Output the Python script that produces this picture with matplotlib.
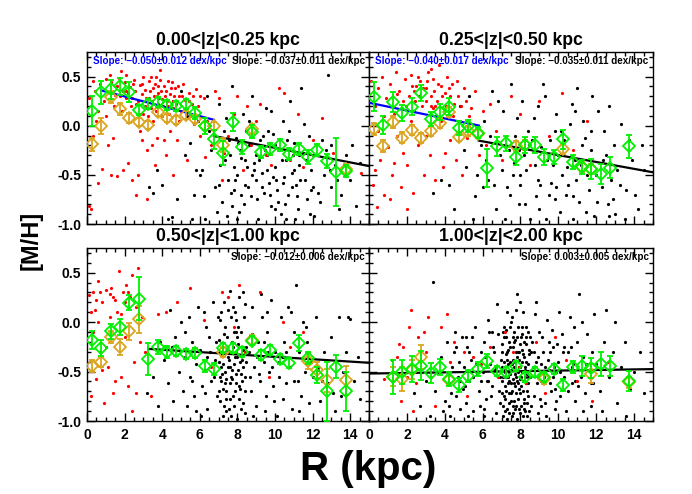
import numpy as np
import matplotlib
matplotlib.use("Agg")
import matplotlib.pyplot as plt
from matplotlib.ticker import MultipleLocator, FixedLocator

plt.rcParams['font.family'] = ['Liberation Sans', 'DejaVu Sans']
plt.rcParams['font.weight'] = 'bold'

nan = np.nan
R_BINS = [0.25, 0.75, 1.25, 1.75, 2.25, 2.75, 3.25, 3.75, 4.25, 4.75, 5.25, 5.75, 6.25, 6.75,
          7.25, 7.75, 8.25, 8.75, 9.25, 9.75, 10.25, 10.75, 11.25, 11.75, 12.25, 12.75, 13.25, 13.75]

TITLES = ["0.00<|z|<0.25 kpc", "0.25<|z|<0.50 kpc", "0.50<|z|<1.00 kpc", "1.00<|z|<2.00 kpc"]
SLOPE_INNER = ["Slope: \u22120.050\u00b10.012 dex/kpc", "Slope: \u22120.040\u00b10.017 dex/kpc", None, None]
SLOPE_OUTER = ["Slope: \u22120.037\u00b10.011 dex/kpc", "Slope: \u22120.035\u00b10.011 dex/kpc",
               "Slope: \u22120.012\u00b10.006 dex/kpc", "Slope: 0.003\u00b10.005 dex/kpc"]

# ---------------- binned means (green = all, orange = subset) ----------------
G1 = [0.15, 0.34, 0.37, 0.40, 0.34, 0.16, 0.22, 0.245, 0.21, 0.20, 0.22, 0.13, 0.00, -0.14,
      -0.28, 0.035, -0.22, -0.06, -0.27, -0.24, -0.20, -0.29, -0.24, -0.315, -0.25, -0.36, -0.47, -0.46]
G1E = [0.15, 0.12, 0.10, 0.09, 0.10, 0.05, 0.05, 0.05, 0.05, 0.05, 0.05, 0.06, 0.08, 0.10,
       0.12, 0.09, 0.07, 0.07, 0.06, 0.06, 0.06, 0.06, 0.06, 0.07, 0.06, 0.07, 0.35, 0.06]
O1 = [-0.19, 0.0, 0.295, 0.167, 0.075, 0.04, 0.007, 0.137, 0.075, 0.058, 0.109, 0.065, 0.0, 0.0,
      -0.20, nan, nan, -0.03, nan, nan, nan, nan, nan, nan, nan, nan, nan, -0.44]
O1E = [0.07, 0.08, 0.06, 0.06, 0.05, 0.04, 0.04, 0.04, 0.04, 0.04, 0.04, 0.04, 0.04, 0.04,
       0.07, nan, nan, 0.05, nan, nan, nan, nan, nan, nan, nan, nan, nan, 0.05]

G2 = [0.295, 0.007, 0.244, 0.126, 0.194, 0.336, 0.065, 0.143, 0.194, -0.026, 0.0, -0.07, -0.43, -0.21,
      -0.18, -0.315, -0.196, -0.196, -0.315, -0.32, -0.14, -0.366, -0.417, -0.44, -0.49, -0.427, nan, -0.21]
G2E = [0.15, 0.09, 0.1, 0.08, 0.09, 0.08, 0.07, 0.08, 0.09, 0.07, 0.06, 0.06, 0.19, 0.1,
       0.08, 0.08, 0.08, 0.08, 0.08, 0.07, 0.1, 0.07, 0.07, 0.1, 0.1, 0.11, nan, 0.12]
O2 = [-0.03, -0.21, 0.035, -0.12, -0.04, -0.125, -0.05, 0.03, 0.14, -0.11, -0.05, -0.08, nan, nan,
      nan, -0.21, -0.2, nan, nan, nan, -0.24, nan, -0.42, -0.44, nan, nan, nan, nan]
O2E = [0.06, 0.06, 0.06, 0.06, 0.05, 0.05, 0.05, 0.05, 0.05, 0.05, 0.05, 0.05, nan, nan,
       nan, 0.05, 0.05, nan, nan, nan, 0.05, nan, 0.05, 0.05, nan, nan, nan, nan]

G3 = [-0.179, -0.264, -0.094, -0.05, 0.198, 0.238, -0.37, -0.254, -0.305, -0.295, -0.32, -0.311, -0.44, -0.474,
      -0.26, -0.264, -0.305, -0.186, -0.33, -0.28, -0.37, -0.413, -0.213, -0.359, -0.535, -0.70, -0.45, -0.70]
G3E = [0.09, 0.08, 0.08, 0.08, 0.08, 0.22, 0.16, 0.07, 0.06, 0.05, 0.05, 0.05, 0.06, 0.06,
       0.05, 0.05, 0.05, 0.05, 0.05, 0.05, 0.05, 0.05, 0.08, 0.06, 0.08, 0.3, 0.12, 0.2]
O3 = [-0.447, -0.407, -0.152, -0.254, -0.094, 0.028, nan, nan, nan, nan, nan, nan, nan, nan,
      -0.30, nan, nan, -0.18, nan, nan, nan, nan, nan, -0.39, -0.48, -0.59, nan, -0.59]
O3E = [0.06, 0.05, 0.06, 0.08, 0.09, 0.14, nan, nan, nan, nan, nan, nan, nan, nan,
       0.05, nan, nan, 0.05, nan, nan, nan, nan, nan, 0.08, 0.08, 0.12, nan, 0.15]

G4 = [nan, nan, -0.552, -0.508, -0.474, -0.44, -0.518, -0.457, -0.576, -0.637, -0.549, -0.474, -0.389, -0.491,
      -0.508, -0.44, -0.552, -0.508, -0.552, -0.474, -0.634, -0.45, -0.447, -0.467, -0.423, -0.447, nan, -0.593]
G4E = [nan, nan, 0.17, 0.12, 0.13, 0.15, 0.1, 0.08, 0.07, 0.07, 0.06, 0.07, 0.07, 0.05,
       0.05, 0.05, 0.05, 0.05, 0.05, 0.05, 0.06, 0.06, 0.1, 0.1, 0.12, 0.1, nan, 0.1]
O4 = [nan, nan, -0.55, -0.576, -0.48, -0.35, nan, nan, -0.59, nan, nan, nan, nan, nan,
      nan, nan, nan, nan, -0.575, nan, nan, nan, nan, -0.52, nan, nan, nan, -0.61]
O4E = [nan, nan, 0.1, 0.12, 0.1, 0.12, nan, nan, 0.05, nan, nan, nan, nan, nan,
       nan, nan, nan, nan, 0.05, nan, nan, nan, nan, 0.1, nan, nan, nan, 0.06]

# ---------------- linear fits: (R start, R end, value at start, slope) ----------------
FIT_INNER = [(0.75, 6.75, 0.36, -0.050), (0.0, 5.8, 0.234, -0.040), None, None]
FIT_OUTER = [(6.75, 15.0, -0.105, -0.037), (5.8, 15.0, -0.152, -0.035),
             (3.25, 15.0, -0.27, -0.012), (0.0, 15.0, -0.52, 0.003)]

# ---------------- individual stars ----------------
P1_RED = [(0.1,0.28),(0.1,-0.82),(0.2,-0.85),(0.3,0.46),(0.4,0.35),(0.5,0.05),(0.6,-0.58),(0.7,0.42),(0.8,-0.44),
 (0.9,0.25),(1.0,0.48),(1.1,-0.2),(1.2,0.52),(1.3,0.44),(1.4,-0.13),(1.5,0.31),(1.6,-0.51),(1.7,0.49),(1.8,0.56),
 (1.9,0.35),(2.0,0.44),(2.1,0.52),(2.2,-0.38),(2.3,0.39),(2.4,0.28),(2.5,0.47),(2.6,0.22),(2.7,-0.5),(2.8,0.41),
 (2.9,0.32),(3.0,0.5),(3.0,0.12),(3.1,0.36),(3.2,-0.25),(3.3,0.45),(3.3,0.28),(3.4,0.18),(3.5,0.38),(3.5,0.05),
 (3.6,0.42),(3.7,0.3),(3.7,-0.12),(3.8,0.33),(3.8,0.22),(3.9,0.47),(4.0,0.27),(4.0,0.1),(4.1,0.4),(4.2,-0.3),
 (4.2,0.35),(4.3,0.2),(4.4,0.32),(4.4,-0.05),(4.5,0.44),(4.6,0.25),(4.7,0.38),(4.8,-0.15),(4.9,0.3),(5.0,0.15),
 (5.1,0.42),(5.2,0.26),(5.3,-0.35),(5.4,0.33),(5.5,0.1),(5.6,0.22),(5.8,0.37),(6.0,-0.1),(6.2,0.28),(6.4,0.05),
 (6.6,-0.2),(6.8,0.35),(7.2,-0.55),(7.8,0.12),(8.3,-0.45),(9.0,0.05),(9.5,-0.3),(10.2,0.38),(10.8,-0.35),
 (11.2,0.12),(12.0,-0.15),(12.5,0.08),(13.1,-0.28),(14.6,-0.48),(0.3,-0.1),(0.6,0.15),(1.3,-0.5),(1.9,-0.45),
 (2.4,-0.55),(2.6,-0.7),(3.2,-0.75),(2.9,-0.15),(3.6,-0.4),(4.6,-0.5),(5.9,0.2),(6.3,-0.32),(1.0,0.1),(2.1,0.28),
 (3.4,0.5),(3.9,0.57),(4.9,0.05),(5.7,0.02),(6.0,0.3),(7.0,0.28),(7.5,-0.1),(8.0,0.3),(8.5,0.2),(9.2,0.22),
 (9.8,-0.4),(10.5,0.33),(11.5,-0.42),(7.3,-0.28),(8.7,-0.2),(2.2,0.33),(2.7,0.25),(3.1,0.2),(4.3,0.45),(1.6,0.4),
 (2.35,0.2),(2.55,0.35),(2.75,0.12),(2.95,0.42),(3.15,0.28),(3.35,0.35),(3.45,0.25),(3.55,0.3),(3.65,0.15),
 (3.75,0.4),(3.85,0.28),(3.95,0.35),(4.05,0.2),(4.15,0.3),(4.25,0.25),(4.35,0.12),(4.45,0.38),(4.55,0.18),
 (4.65,0.3),(4.75,0.22),(4.85,0.4),(5.05,0.3),(5.25,0.12),(5.45,0.25),(5.65,0.3),(1.45,0.2),(1.75,0.3),(1.85,0.15),
 (2.05,0.35),(2.45,0.42),(3.25,0.1),(3.65,0.5),(4.1,-0.15),(2.8,-0.05),(3.45,-0.2)]
P1_BLACK = [(3.3,-0.62),(3.5,-0.68),(3.7,-0.45),(4.0,-0.6),(4.3,-0.95),(4.5,-0.93),(4.8,-0.75),(5.0,0.35),(5.2,-0.3),
 (5.5,-0.18),(5.7,-0.7),(5.9,0.05),(6.1,-0.45),(6.3,-0.95),(6.4,0.3),(6.6,-0.25),(6.8,-0.62),(7.0,0.22),(7.1,-0.4),
 (7.2,-0.78),(7.3,-0.05),(7.4,0.08),(7.5,-0.55),(7.6,-0.3),(7.7,0.4),(7.8,-0.65),(7.9,-0.12),(8.0,-0.5),(8.1,-0.88),
 (8.2,-0.33),(8.3,0.12),(8.4,-0.6),(8.5,-0.42),(8.6,-0.2),(8.7,-0.72),(8.8,0.3),(8.9,-0.38),(9.0,-0.55),(9.1,-0.95),
 (9.2,-0.15),(9.3,-0.48),(9.4,-0.68),(9.5,0.18),(9.6,-0.3),(9.7,-0.58),(9.8,-0.82),(9.9,-0.08),(10.0,-0.42),
 (10.1,-0.65),(10.2,-0.25),(10.3,-0.9),(10.4,0.05),(10.5,-0.52),(10.6,-0.35),(10.7,-0.7),(10.8,0.25),(10.9,-0.48),
 (11.0,-0.18),(11.1,-0.6),(11.2,-0.85),(11.3,-0.4),(11.4,0.38),(11.5,-0.28),(11.6,-0.55),(11.7,-0.75),(11.8,-0.1),
 (11.9,-0.45),(12.0,-0.62),(12.2,-0.3),(12.4,-0.78),(12.6,-0.5),(12.8,0.52),(13.0,-0.62),(13.2,-0.4),(13.5,-0.7),
 (13.8,-0.3),(14.0,-0.55),(14.3,-0.82),(14.5,-0.38),(7.45,-0.92),(8.05,-0.18),(8.55,-0.62),(9.15,-0.35),
 (9.65,-0.05),(10.15,-0.78),(10.65,-0.15),(11.05,-0.95),(11.55,0.02),(12.1,-0.92),(7.65,-0.68),(8.35,-0.8),
 (9.45,-0.25),(10.45,-0.58),(11.25,-0.3),(6.9,-0.88),(5.6,-0.95),(5.3,0.1),(4.6,0.25),(6.0,-0.5),(8.9,-0.45),
 (9.3,-0.62),(10.0,-0.2),(10.9,-0.62),(8.2,-0.7),(7.8,-0.42),(9.9,-0.52),(11.9,-0.65),(12.5,-0.15),(13.3,-0.55),
 (7.35,-0.35),(7.55,-0.15),(7.85,-0.55),(8.15,-0.25),(8.45,-0.05),(8.75,-0.5),(9.05,-0.75),(9.35,-0.1),(9.55,-0.45),
 (9.75,-0.7),(10.05,-0.55),(10.35,-0.35),(10.55,-0.8),(10.75,-0.05),(10.95,-0.3),(11.15,-0.72),(11.35,-0.55),
 (11.65,-0.35),(11.85,-0.9),(12.3,-0.68),(12.7,-0.25),(12.9,-0.45),(13.4,-0.85),(13.7,-0.5),(14.1,-0.2),(6.2,-0.72),
 (6.5,-0.05),(5.8,-0.45),(7.0,-0.6),(8.0,-0.95),(9.0,-0.3),(10.0,-0.85),(11.0,-0.45),(12.0,-0.3),(13.0,-0.2),
 (8.6,0.05),(9.8,0.15),(10.6,-0.95),(7.7,-0.82),(8.4,-0.35)]

P2_RED = [(0.1,0.45),(0.2,-0.6),(0.3,0.2),(0.4,-0.83),(0.5,0.38),(0.6,-0.35),(0.7,0.5),(0.8,-0.7),(0.9,0.28),
 (1.0,-0.22),(1.1,0.42),(1.2,-0.5),(1.3,0.12),(1.4,0.55),(1.5,-0.1),(1.6,0.35),(1.7,-0.62),(1.8,0.25),(1.9,0.48),
 (2.0,-0.4),(2.1,0.3),(2.2,0.52),(2.3,-0.68),(2.4,0.15),(2.5,0.4),(2.6,-0.2),(2.7,0.45),(2.8,0.2),(2.9,-0.5),
 (3.0,0.38),(3.1,0.55),(3.2,-0.3),(3.3,0.3),(3.4,0.48),(3.5,-0.55),(3.6,0.25),(3.7,0.62),(3.8,0.4),(3.9,-0.42),
 (4.0,0.33),(4.1,0.5),(4.2,0.1),(4.3,-0.15),(4.4,0.42),(4.5,0.22),(4.6,-0.35),(4.7,0.3),(4.8,0.05),(5.0,0.38),
 (5.2,-0.12),(5.4,0.18),(5.6,0.35),(5.8,-0.3),(6.0,0.15),(6.2,-0.2),(6.4,0.22),(6.7,-0.05),(7.0,-0.35),(7.5,0.3),
 (8.0,0.12),(8.5,-0.4),(9.0,0.25),(9.5,-0.1),(10.2,0.33),(10.8,-0.25),(11.5,0.05),(0.8,0.1),(1.5,0.32),(2.2,0.05),
 (3.0,-0.1),(3.8,0.05),(2.6,0.5),(3.4,0.18),(4.0,-0.28),(1.3,-0.38),(0.3,-0.45),(2.0,-0.85),(1.1,-0.75),(4.9,-0.5),
 (3.3,0.58),(3.5,0.2),(2.4,0.35),(3.0,0.25),(4.3,0.3),(1.8,-0.28),(0.5,-0.05),
 (2.65,0.3),(2.85,0.38),(3.05,0.45),(3.25,0.2),(3.45,0.35),(3.65,0.42),(3.85,0.3),(4.05,0.2),(4.25,0.38),
 (4.45,0.1),(4.65,0.45),(2.45,0.25),(2.25,0.4),(1.95,0.2),(5.1,0.25),(5.3,0.1),(4.85,0.2),(3.55,0.1)]
P2_BLACK = [(3.4,-0.68),(3.8,-0.55),(4.2,-0.6),(4.5,-0.85),(4.8,0.2),(5.1,-0.42),(5.3,0.3),(5.6,-0.72),(5.9,-0.2),
 (6.1,0.05),(6.3,-0.55),(6.5,0.35),(6.7,-0.85),(6.9,-0.3),(7.1,0.15),(7.3,-0.62),(7.5,0.42),(7.7,-0.1),(7.9,-0.8),
 (8.1,0.25),(8.3,-0.45),(8.5,-0.95),(8.7,0.08),(8.9,-0.55),(9.1,-0.22),(9.3,0.3),(9.5,-0.7),(9.7,-0.4),(9.9,0.12),
 (10.1,-0.88),(10.3,-0.15),(10.5,-0.6),(10.7,0.22),(10.9,-0.35),(11.1,-0.78),(11.3,0.05),(11.5,-0.5),(11.7,-0.25),
 (11.9,-0.92),(12.1,0.15),(12.3,-0.62),(12.5,-0.3),(12.7,0.2),(12.9,-0.75),(13.1,-0.45),(13.3,0.02),(13.6,-0.65),
 (13.9,-0.35),(14.2,-0.85),(14.5,-0.45),(7.2,-0.95),(7.8,0.08),(8.2,-0.3),(8.8,-0.72),(9.2,0.42),(9.8,-0.05),
 (10.2,-0.5),(10.8,-0.95),(11.2,-0.4),(11.8,0.3),(12.4,-0.05),(13.0,-0.9),(6.4,-0.1),(7.0,-0.45),(8.0,-0.6),
 (9.0,-0.85),(10.0,-0.3),(11.0,0.38),(12.0,-0.5),(13.5,-0.95),(5.5,-0.95),(6.8,0.25),(7.4,-0.25),(8.6,-0.15),
 (9.6,-0.58),(10.6,0.02),(11.6,-0.65),(12.8,-0.55),(5.0,-0.25),(6.0,-0.62),(7.6,-0.5),(8.4,-0.05),(9.4,-0.35),
 (10.4,-0.7),(11.4,-0.12),(12.6,-0.8),(7.9,-0.25),(9.9,-0.62),(7.45,-0.7),(7.65,-0.38),(7.95,-0.5),(8.25,-0.8),
 (8.45,-0.2),(8.75,-0.4),(9.05,-0.6),(9.35,-0.95),(9.55,-0.15),(9.85,-0.75),(10.15,-0.05),(10.45,-0.42),
 (10.75,-0.72),(10.95,-0.55),(11.25,-0.2),(11.45,-0.88),(11.75,-0.05),(12.05,-0.78),(12.35,-0.35),(12.65,-0.92),
 (12.95,-0.2),(13.25,-0.6),(13.75,-0.15),(14.05,-0.7),(14.4,-0.2),(6.6,-0.6),(6.2,-0.35),(5.7,-0.5),(8.9,0.2),
 (10.9,0.15)]

P3_RED = [(0.1,0.27),(0.2,-0.75),(0.3,0.3),(0.4,0.12),(0.5,-0.58),(0.6,0.42),(0.7,-0.3),(0.8,0.2),(0.9,-0.82),
 (1.0,0.33),(1.1,-0.45),(1.2,0.05),(1.3,0.35),(1.4,-0.72),(1.5,0.22),(1.6,0.1),(1.7,0.52),(1.8,-0.55),(1.9,0.3),
 (2.0,-0.15),(2.1,0.38),(2.2,-0.65),(2.3,0.25),(2.4,0.48),(2.5,-0.4),(2.6,0.15),(2.7,0.55),(2.8,-0.2),(2.9,0.05),
 (0.3,-0.1),(0.6,0.0),(1.0,-0.25),(1.5,-0.6),(2.0,0.2),(2.4,-0.9),(1.2,0.28),(0.8,-0.48),(1.8,0.08),(2.6,-0.72),
 (0.5,0.22),(3.1,-0.3),(3.4,-0.75),(3.8,0.08),(4.2,0.1),(4.8,0.2),(5.5,0.35),(6.2,0.02),(6.6,-0.45),(7.2,0.3),
 (7.5,0.25),(7.8,-0.05),(8.1,0.38),(8.4,-0.3),(9.2,0.3),(9.7,-0.55),(10.4,0.0),(10.8,-0.25),(11.5,-0.1),
 (12.3,-0.48),(0.2,0.1),(1.4,0.25),(2.2,0.3),(0.7,0.3)]
P3_BLACK = [(3.2,-0.72),(3.5,-0.55),(3.8,-0.85),(3.9,-0.2),(4.1,-0.38),(4.3,-0.62),(4.4,0.12),(4.6,-0.8),(4.7,-0.15),
 (4.9,-0.5),(4.5,-0.25),(5.0,0.0),(5.1,-0.7),(5.2,-0.35),(5.3,-0.85),(5.4,0.05),(5.5,-0.55),(5.6,-0.2),(5.7,-0.75),
 (5.8,-0.42),(5.9,0.15),(5.2,-0.1),(5.6,-0.6),(6.0,-0.28),(6.1,-0.65),(6.2,0.1),(6.3,-0.48),(6.4,-0.88),(6.5,-0.15),
 (6.6,-0.6),(6.7,0.2),(6.8,-0.38),(6.9,-0.75),(6.05,-0.95),(6.35,-0.05),(6.55,-0.3),(6.75,-0.55),(6.95,0.05),
 (6.25,-0.72),(6.85,-0.2),(7.0,-0.4),(7.05,-0.8),(7.1,0.02),(7.15,-0.6),(7.2,-0.25),(7.25,-0.95),(7.3,0.2),
 (7.35,-0.5),(7.4,-0.7),(7.45,-0.15),(7.5,-0.35),(7.55,-0.88),(7.6,0.32),(7.65,-0.55),(7.7,-0.2),(7.75,-0.75),
 (7.8,-0.42),(7.85,0.1),(7.9,-0.62),(7.95,-0.3),(8.0,-0.98),(8.05,-0.48),(8.1,0.25),(8.15,-0.68),(8.2,-0.1),
 (8.25,-0.38),(8.3,-0.82),(8.35,0.05),(8.4,-0.55),(8.45,-0.25),(7.02,-0.18),(7.12,-0.45),(7.22,-0.68),(7.32,-0.05),
 (7.42,-0.9),(7.52,0.12),(7.62,-0.3),(7.72,-0.58),(7.82,-0.85),(7.92,0.02),(8.02,-0.22),(8.12,-0.4),(8.22,-0.6),
 (8.32,-0.28),(8.42,0.18),(7.08,-0.55),(7.18,-0.32),(7.28,-0.12),(7.38,-0.78),(7.48,-0.45),(7.58,-0.62),(7.68,0.05),
 (7.78,-0.25),(7.88,-0.7),(7.98,-0.15),(8.08,-0.78),(8.18,-0.52),(8.28,0.3),(8.38,-0.92),(8.48,-0.4),(7.55,-0.38),
 (7.65,-0.95),(7.75,0.15),(7.85,-0.35),(7.95,-0.52),(7.45,-0.28),(7.35,-0.62),(7.25,-0.42),(7.15,0.1),(8.05,-0.05),
 (8.6,-0.3),(8.7,-0.7),(8.8,0.15),(8.9,-0.45),(9.0,-0.85),(9.1,-0.2),(9.2,-0.6),(9.3,0.05),(9.4,-0.4),(9.5,-0.75),
 (9.6,-0.1),(9.7,-0.5),(9.8,0.22),(9.9,-0.65),(8.65,-0.55),(8.85,-0.95),(9.05,-0.35),(9.25,0.28),(9.45,-0.9),
 (9.65,-0.3),(9.85,-0.45),(8.75,-0.12),(9.15,-0.52),(9.55,0.1),(9.95,-0.8),(10.0,-0.3),(10.2,-0.55),(10.3,0.05),
 (10.4,-0.78),(10.5,-0.2),(10.6,-0.62),(10.7,0.15),(10.8,-0.45),(10.9,-0.88),(11.0,-0.1),(11.1,0.38),(11.2,-0.6),
 (11.3,-0.3),(11.4,-0.75),(11.5,0.0),(11.6,-0.5),(11.7,-0.2),(11.8,-0.82),(11.9,-0.4),(10.1,-0.95),(10.45,-0.35),
 (10.85,0.1),(11.25,-0.9),(11.65,-0.05),(12.0,-0.55),(12.2,0.05),(12.4,-0.8),(12.6,-0.3),(12.8,-0.62),(13.0,-0.15),
 (13.2,-0.9),(13.4,0.05),(13.6,-0.5),(13.8,-0.3),(14.0,0.03),(14.2,-0.6),(14.4,-0.35),(12.3,-0.45),(13.1,-0.72),
 (13.9,0.05),(14.5,-0.78),(7.7,-0.48),(7.9,-0.1),(8.1,-0.65),(7.3,-0.85),(7.6,-0.78),(8.3,-0.45),(7.1,-0.3),
 (7.4,-0.58),(7.6,-0.45),(7.8,-0.1),(8.0,-0.35),(8.2,-0.88),(7.2,-0.52),(7.0,-0.7),(8.4,-0.7),(9.4,-0.2),
 (10.2,-0.4),(10.6,-0.3),(11.0,-0.6),(6.4,-0.35),(5.8,-0.9),(12.5,-0.6),(13.5,-0.75)]

P4_RED = [(1.2,-0.38),(1.5,-0.35),(1.6,-0.22),(1.7,-0.8),(1.8,-0.25),(2.0,-0.55),(2.1,-0.05),(2.2,0.12),(2.5,-0.62),
 (2.6,-0.15),(2.9,-0.1),(3.0,-0.3),(3.1,0.05),(3.3,-0.55),(3.8,-0.05),(4.1,0.08),(4.3,-0.4),(4.5,-0.2),(5.2,-0.75),
 (5.5,-0.35),(5.9,-0.42),(6.4,-0.25),(6.8,-0.55),(7.2,-0.1),(7.6,-0.3),(7.9,-0.45),(8.3,-0.62),(8.8,-0.2),
 (9.3,-0.72),(9.8,-0.15),(10.4,-0.38),(11.0,-0.6),(11.8,-0.8),(12.6,-0.4),(2.3,-0.9),(0.8,-0.58),(5.0,-0.3),
 (3.5,-0.85)]
P4_BLACK = [(2.4,-0.72),(2.7,-0.85),(3.0,-0.6),(3.2,-0.95),(3.4,0.41),(3.5,-0.7),(3.7,-0.5),(3.9,-0.9),(3.8,-0.35),
 (4.0,-0.8),(4.1,-0.2),(4.2,-0.62),(4.3,-0.95),(4.4,-0.45),(4.5,-0.3),(4.6,-0.75),(4.7,-0.55),(4.8,-0.88),
 (4.9,-0.15),(4.15,-0.5),(4.35,-0.72),(4.55,-0.1),(4.75,-0.4),(4.95,-0.68),(5.0,-0.45),(5.1,-0.82),(5.2,-0.25),
 (5.3,-0.6),(5.4,-0.38),(5.5,-0.9),(5.6,-0.05),(5.7,-0.52),(5.8,-0.7),(5.9,-0.3),(5.05,-0.65),(5.25,-0.95),
 (5.45,-0.15),(5.65,-0.42),(5.85,-0.85),(6.0,-0.5),(6.1,-0.2),(6.2,-0.78),(6.3,0.02),(6.4,-0.42),(6.5,-0.65),
 (6.6,-0.3),(6.7,-0.92),(6.8,-0.12),(6.9,-0.55),(6.05,-0.88),(6.15,-0.35),(6.25,-0.6),(6.35,-0.1),(6.45,-0.75),
 (6.55,-0.25),(6.65,-0.48),(6.75,0.18),(6.85,-0.7),(6.95,-0.38),(7.0,-0.6),(7.05,-0.3),(7.1,-0.85),(7.15,-0.15),
 (7.2,-0.5),(7.25,-0.7),(7.3,0.1),(7.35,-0.42),(7.4,-0.92),(7.45,-0.25),(7.5,-0.62),(7.55,0.05),(7.6,-0.38),
 (7.65,-0.8),(7.7,-0.18),(7.75,-0.55),(7.8,-0.98),(7.85,-0.3),(7.9,-0.68),(7.95,0.2),(8.0,-0.45),(8.05,-0.85),
 (8.1,-0.12),(8.15,-0.6),(8.2,-0.35),(8.25,-0.9),(8.3,-0.05),(8.35,-0.52),(8.4,-0.75),(8.45,-0.28),(7.02,-0.45),
 (7.08,-0.95),(7.12,-0.05),(7.18,-0.65),(7.22,-0.32),(7.28,-0.88),(7.32,-0.55),(7.38,-0.2),(7.42,-0.72),(7.48,0.0),
 (7.52,-0.48),(7.58,-0.85),(7.62,-0.58),(7.68,-0.1),(7.72,-0.4),(7.78,-0.72),(7.82,0.28),(7.88,-0.5),(7.92,-0.88),
 (7.98,-0.22),(8.02,-0.65),(8.08,-0.4),(8.12,0.1),(8.18,-0.78),(8.22,-0.55),(8.28,-0.22),(8.32,-0.95),(8.38,-0.42),
 (8.42,-0.62),(8.48,-0.15),(7.03,-0.22),(7.13,-0.75),(7.23,-0.08),(7.33,-0.62),(7.43,-0.4),(7.53,-0.95),(7.63,-0.25),
 (7.73,-0.88),(7.83,-0.6),(7.93,-0.38),(8.03,-0.15),(8.13,-0.95),(8.23,-0.45),(8.33,-0.7),(8.43,-0.32),(7.57,-0.7),
 (7.67,-0.45),(7.77,-0.3),(7.87,-0.78),(7.97,-0.58),(7.47,-0.52),(7.37,-0.82),(7.27,-0.38),(7.17,-0.48),(8.07,-0.28),
 (8.17,-0.2),(8.27,-0.62),(7.76,0.12),(7.66,-0.62),(7.86,-0.05),(8.5,-0.55),(8.6,-0.2),(8.7,-0.75),(8.8,-0.4),
 (8.9,-0.92),(9.0,-0.1),(9.1,-0.6),(9.2,-0.3),(9.3,-0.82),(9.4,0.02),(9.5,-0.48),(9.6,-0.7),(9.7,-0.25),(9.8,-0.88),
 (9.9,-0.5),(8.55,-0.85),(8.65,-0.45),(8.75,0.08),(8.85,-0.62),(8.95,-0.35),(9.05,-0.78),(9.15,-0.15),(9.25,-0.55),
 (9.35,-0.95),(9.45,-0.38),(9.55,-0.62),(9.65,-0.08),(9.75,-0.45),(9.85,-0.68),(9.95,-0.22),(8.58,-0.3),(9.08,-0.42),
 (9.58,-0.3),(8.82,0.2),(10.0,-0.4),(10.1,-0.75),(10.2,-0.12),(10.3,-0.55),(10.4,-0.9),(10.5,-0.3),(10.6,0.05),
 (10.7,-0.62),(10.8,-0.42),(10.9,-0.8),(11.0,-0.2),(11.1,0.28),(11.2,-0.55),(11.3,-0.35),(11.4,-0.72),(11.5,-0.12),
 (11.6,-0.48),(11.7,-0.85),(11.8,-0.3),(11.9,0.08),(10.25,-0.3),(10.65,-0.25),(11.05,-0.65),(11.45,-0.42),
 (11.85,-0.62),(10.05,0.1),(10.85,-0.05),(11.25,0.0),(12.0,-0.42),(12.2,-0.7),(12.4,-0.2),(12.5,0.12),(12.7,-0.55),
 (12.9,-0.3),(13.1,-0.82),(13.3,-0.45),(13.5,-0.2),(13.8,-0.68),(14.0,-0.5),(14.3,-0.3),(12.3,-0.9),(13.0,0.0),
 (13.6,-0.95),(14.5,-0.72),(7.6,-0.15),(7.7,-0.65),(7.8,-0.35),(7.9,-0.45),(8.0,-0.72),(7.5,-0.8),(7.4,-0.5),
 (8.1,-0.5),(8.2,-0.82),(7.3,-0.3),(7.2,-0.78),(8.3,-0.4),(7.1,-0.55),(8.4,-0.1),
 (6.5,-0.1),(6.7,-0.45),(6.9,-0.82),(6.3,-0.6),(6.1,-0.95),(5.9,-0.6),(5.5,-0.55),(5.3,-0.3),(5.1,-0.15),(4.8,-0.6),
 (4.6,-0.25),(4.2,-0.85),(7.01,-0.72),(7.06,-0.1),(7.11,-0.4),(7.16,-0.9),(7.21,-0.15),(7.26,-0.55),(7.31,-0.98),
 (7.36,-0.28),(7.41,-0.6),(7.46,-0.05),(7.51,-0.72),(7.56,-0.42),(7.61,-0.92),(7.66,-0.2),(7.71,-0.52),(7.76,-0.85),
 (7.81,-0.15),(7.86,-0.62),(7.91,-0.3),(7.96,-0.92),(8.01,-0.55),(8.06,-0.05),(8.11,-0.7),(8.16,-0.32),(8.21,-0.88),
 (8.26,-0.48),(8.31,-0.15),(8.36,-0.82),(8.41,-0.55),(8.46,-0.9),(8.7,-0.3),(8.9,-0.55),(9.1,-0.85),(9.3,-0.45),
 (9.5,-0.2),(9.7,-0.55),(9.9,-0.8),(10.1,-0.5),(10.3,-0.25),(10.5,-0.7),(10.7,-0.45),(10.9,-0.6),(11.3,-0.9),
 (11.7,-0.62)]

PANELS = [(P1_RED, P1_BLACK, G1, G1E, O1, O1E), (P2_RED, P2_BLACK, G2, G2E, O2, O2E),
          (P3_RED, P3_BLACK, G3, G3E, O3, O3E), (P4_RED, P4_BLACK, G4, G4E, O4, O4E)]

GREEN = '#00f000'
ORANGE = '#daa520'

fig = plt.figure(figsize=(6.92, 4.94), dpi=100)
W, H = 692.0, 494.0
rects = [(87, 52, 282, 172), (369, 52, 284, 172), (87, 248, 282, 173), (369, 248, 284, 173)]

for i, (red, black, g, ge, o, oe) in enumerate(PANELS):
    x0, y0, w, h = rects[i]
    ax = fig.add_axes([x0 / W, 1 - (y0 + h) / H, w / W, h / H])
    ax.set_xlim(0, 15)
    ax.set_ylim(-1.0, 0.75)
    rx, ry = zip(*red)
    bx, by = zip(*black)
    ax.plot(bx, by, 'o', color='black', ms=2.3, mec='none', zorder=2)
    ax.plot(rx, ry, 'o', color='red', ms=2.3, mec='none', zorder=2)
    if FIT_INNER[i] is not None:
        a, b, v, s = FIT_INNER[i]
        xx = np.array([a, b])
        ax.plot(xx, v + s * (xx - a), color='blue', lw=1.6, zorder=3)
    a, b, v, s = FIT_OUTER[i]
    xx = np.array([a, b])
    ax.plot(xx, v + s * (xx - a), color='black', lw=1.6, zorder=3, clip_on=True)
    ax.errorbar(R_BINS, o, yerr=oe, fmt='D', ms=6.3, mfc='none', mec=ORANGE, mew=1.3,
                ecolor=ORANGE, elinewidth=1.3, capsize=2, capthick=1.1, zorder=4)
    ax.errorbar(R_BINS, g, yerr=ge, fmt='D', ms=6.3, mfc='none', mec=GREEN, mew=1.3,
                ecolor=GREEN, elinewidth=1.3, capsize=2, capthick=1.1, zorder=5)

    ax.xaxis.set_major_locator(FixedLocator([0, 2, 4, 6, 8, 10, 12, 14]))
    ax.xaxis.set_minor_locator(MultipleLocator(0.5))
    ax.yaxis.set_major_locator(FixedLocator([-1.0, -0.5, 0.0, 0.5]))
    ax.yaxis.set_minor_locator(MultipleLocator(0.1))
    ax.tick_params(which='both', direction='in', top=True, right=True, width=1.0)
    ax.tick_params(which='major', length=6)
    ax.tick_params(which='minor', length=3)
    ax.tick_params(axis='x', pad=5, labelsize=10)
    ax.tick_params(axis='y', pad=4, labelsize=10)
    for sp in ax.spines.values():
        sp.set_linewidth(1.0)
    if i < 2:
        ax.set_xticklabels([])
    else:
        ax.set_xticklabels(['0', '2', '4', '6', '8', '10', '12', '14'], fontweight='bold')
    if i % 2 == 1:
        ax.set_yticklabels([])
    else:
        ax.set_yticklabels(['-1.0', '-0.5', '0.0', '0.5'], fontweight='bold')

    ax.text(0.5, 1.04, TITLES[i], transform=ax.transAxes, ha='center', va='baseline',
            fontsize=12.7, fontweight='bold')
    if SLOPE_INNER[i] is not None:
        ax.text(0.02, 0.948, SLOPE_INNER[i], transform=ax.transAxes, ha='left', va='center',
                fontsize=7.1, fontweight='bold', color='blue')
    ax.text(0.985, 0.948, SLOPE_OUTER[i], transform=ax.transAxes, ha='right', va='center',
            fontsize=7.1, fontweight='bold', color='black')

fig.text(31 / W, 1 - 240 / H, '[M/H]', rotation=90, ha='center', va='center',
         fontsize=17, fontweight='bold')
fig.text(368 / W, 1 - 469 / H, 'R (kpc)', ha='center', va='center', fontsize=29, fontweight='bold')

fig.savefig('out.png', dpi=100)
